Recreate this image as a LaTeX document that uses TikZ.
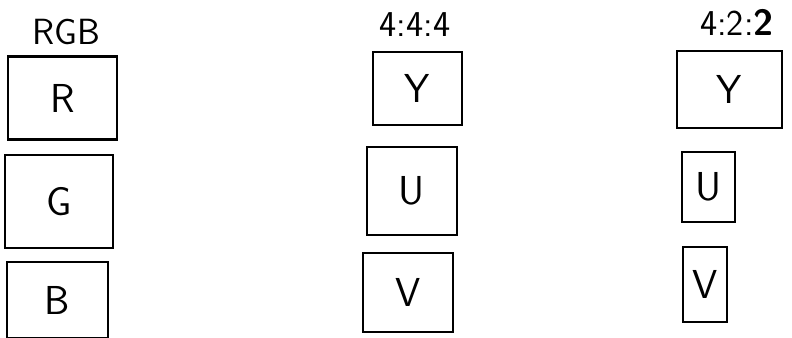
\documentclass[tikz,border=0pt]{standalone}
\usetikzlibrary{positioning}

\begin{document}
\begin{tikzpicture}[
    x=0.02cm, y=-0.02cm,
    font=\sffamily,
    plane/.style={draw=black, line width=1.2pt, inner sep=0pt, font=\sffamily\fontsize{23}{27}\selectfont},
    head/.style={font=\sffamily\huge},
  ]
  \useasboundingbox (0,0) rectangle (792,338);

  % RGB: three full planes
  \node[head] (tRGB) at (66,32) {RGB};
  \node[plane, minimum width=2.18cm, minimum height=1.66cm] (pR) at (62.5,98) {R};
  \node[plane, minimum width=2.16cm, minimum height=1.86cm] (pG) at (59,201.5) {G};
  \node[plane, minimum width=2.02cm, minimum height=1.52cm] (pB) at (57.5,300) {B};

  % 4:4:4: luma and chroma at full size
  \node[head] (tFull) at (415,25) {4:4:4};
  \node[plane, minimum width=1.78cm, minimum height=1.46cm] (fY) at (417.5,88.5) {Y};
  \node[plane, minimum width=1.80cm, minimum height=1.76cm] (fU) at (412,191) {U};
  \node[plane, minimum width=1.80cm, minimum height=1.58cm] (fV) at (408,292.5) {V};

  % 4:2:2: chroma planes shrunk
  \node[head] (tHalf) at (737,22) {4:2:\textbf{2}};
  \node[plane, minimum width=2.10cm, minimum height=1.54cm] (hY) at (729.5,89.5) {Y};
  \node[plane, minimum width=1.06cm, minimum height=1.40cm] (hU) at (708.5,187) {U};
  \node[plane, minimum width=0.88cm, minimum height=1.50cm] (hV) at (705,284.5) {V};
\end{tikzpicture}
\end{document}
